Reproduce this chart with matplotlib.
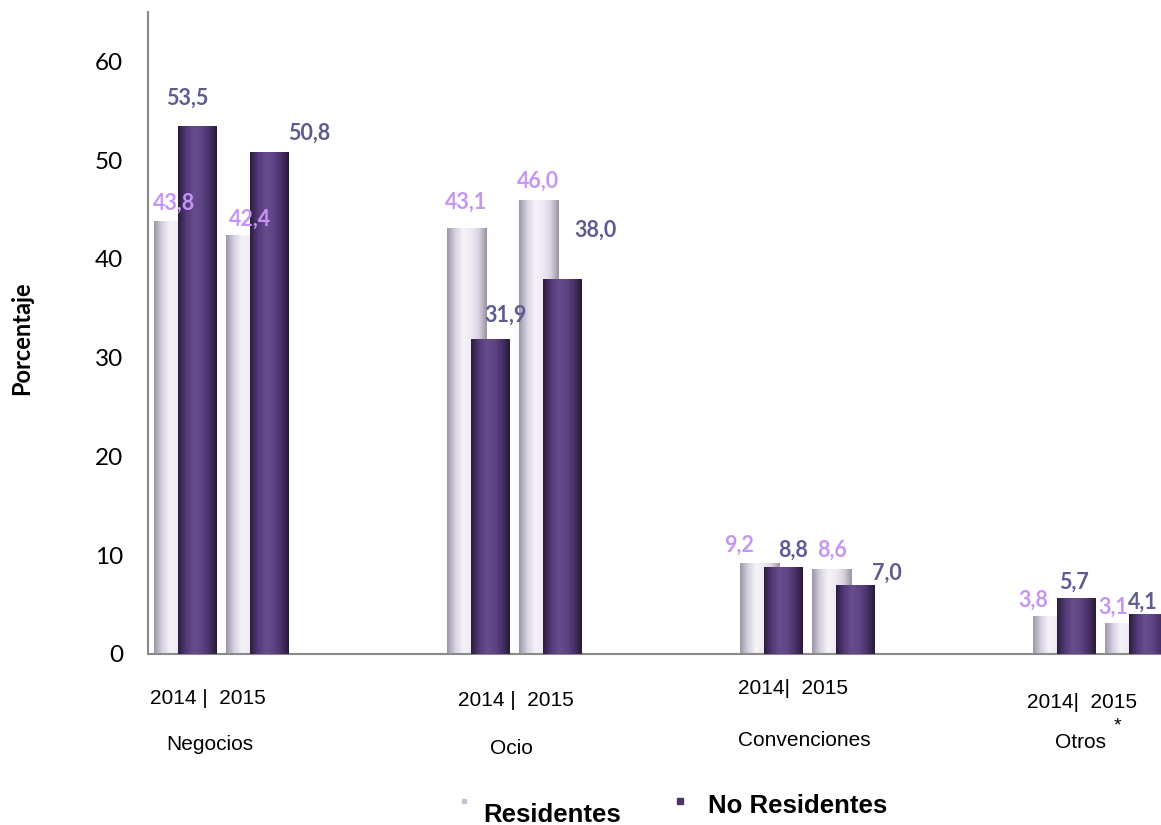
import numpy as np
import matplotlib.pyplot as plt
from matplotlib.colors import LinearSegmentedColormap
from matplotlib.lines import Line2D

# datos
categorias = ["Negocios", "Ocio", "Convenciones", "Otros"]
etiquetas_anios = ["2014 |  2015", "2014 |  2015", "2014|  2015", "2014|  2015"]
res_2014 = [43.8, 43.1, 9.2, 3.8]
nores_2014 = [53.5, 31.9, 8.8, 5.7]
res_2015 = [42.4, 46.0, 8.6, 3.1]
nores_2015 = [50.8, 38.0, 7.0, 4.1]
yticks = [0, 10, 20, 30, 40, 50, 60]

# posiciones de las etiquetas (pixeles, dx, dy respecto a la barra)
desp_res_2014 = [(0, 18), (-1, 26), (-21, 18), (-20, 16)]
desp_nores_2014 = [(-10, 27), (15, 24), (10, 17), (-2, 15)]
desp_res_2015 = [(4, 16), (-1, 18), (0, 19), (-12, 16)]
desp_nores_2015 = [(40, 19), (33, 48), (32, 12), (-6, 11)]
desp_anios = [(-14, 45), (1, 46), (-15, 35), (-19, 48)]
desp_nombres = [(-12, 90), (-3, 95), (-3, 86), (-20, 88)]

col_res_txt = "#c596f6"
col_nores_txt = "#5e5b90"

cmap_blanco = LinearSegmentedColormap.from_list(
    "blanco", ["#9c97a6", "#d6d1df", "#f5f2f9", "#eeeaf3", "#d8d2e1", "#99939f"])
cmap_morado = LinearSegmentedColormap.from_list(
    "morado", ["#2b1d3d", "#523877", "#684c8d", "#604585", "#4a326a", "#281a38"])

fig = plt.figure(figsize=(11.61, 8.25), dpi=100)
ax = fig.add_axes([148 / 1161, 1 - 654 / 825, 1 - 148 / 1161, 642 / 825])

x = np.arange(len(categorias))
par = 0.123
d = 0.040
w_b = 0.1365
w_m = 0.133

grad = np.linspace(0, 1, 128).reshape(1, -1)


def dibujar(xs, vals, ancho, cmap, z):
    barras = ax.bar(xs, vals, ancho, color="#cccccc", zorder=z, linewidth=0)
    for b in barras:
        x0 = b.get_x()
        im = ax.imshow(grad, cmap=cmap, aspect="auto", interpolation="bicubic",
                       extent=[x0, x0 + b.get_width(), 0, b.get_height()],
                       zorder=z + 0.1)
        im.set_clip_path(b)
    return barras


b1 = dibujar(x - par - d, res_2014, w_b, cmap_blanco, 2)
b2 = dibujar(x - par + d, nores_2014, w_m, cmap_morado, 3)
b3 = dibujar(x + par - d, res_2015, w_b, cmap_blanco, 2)
b4 = dibujar(x + par + d, nores_2015, w_m, cmap_morado, 3)


def etiquetas(barras, desp, color):
    for b, (dx, dy) in zip(barras, desp):
        ax.annotate(f"{b.get_height():.1f}".replace(".", ","),
                    (b.get_x() + b.get_width() / 2, b.get_height()),
                    xytext=(dx, dy), textcoords="offset pixels",
                    ha="center", va="center", color=color,
                    fontsize=15.5, fontweight="bold", family="Lato", zorder=5)


etiquetas(b1, desp_res_2014, col_res_txt)
etiquetas(b2, desp_nores_2014, col_nores_txt)
etiquetas(b3, desp_res_2015, col_res_txt)
etiquetas(b4, desp_nores_2015, col_nores_txt)

for i in range(len(categorias)):
    dx, dy = desp_anios[i]
    ax.annotate(etiquetas_anios[i], (x[i], 0), xytext=(dx, -dy),
                textcoords="offset pixels", ha="center", va="center",
                fontsize=15, family="Liberation Sans", annotation_clip=False)
    dx, dy = desp_nombres[i]
    ax.annotate(categorias[i], (x[i], 0), xytext=(dx, -dy),
                textcoords="offset pixels", ha="center", va="center",
                fontsize=15, family="Liberation Sans", annotation_clip=False)
ax.annotate("*", (x[3], 0), xytext=(17, -72), textcoords="offset pixels",
            ha="center", va="center", fontsize=14, family="Liberation Sans",
            annotation_clip=False)

ax.set_xlim(-0.251, 3.206)
ax.set_ylim(0, 65)
ax.set_xticks([])
ax.set_yticks(yticks)
ax.set_yticklabels([str(t) for t in yticks], fontsize=17.5, family="Lato")
ax.tick_params(axis="y", length=0, pad=18)
for s in ["top", "right"]:
    ax.spines[s].set_visible(False)
for s in ["left", "bottom"]:
    ax.spines[s].set_color("#8a8a8a")
    ax.spines[s].set_linewidth(1.5)

fig.text(22 / 1161, 1 - 338 / 825, "Porcentaje", rotation=90, ha="center",
         va="center", fontsize=17, fontweight="bold", family="Lato")

# leyenda
fig.add_artist(Line2D([464 / 1161], [1 - 801 / 825], marker="s", markersize=3.5,
                      color="#c8c2d2", transform=fig.transFigure))
fig.add_artist(Line2D([680 / 1161], [1 - 801 / 825], marker="s", markersize=4.5,
                      color="#4b3466", transform=fig.transFigure))
fig.text(483 / 1161, 1 - 815 / 825, "Residentes", ha="left", va="center",
         fontsize=18.5, fontweight="bold", family="Liberation Sans")
fig.text(708 / 1161, 1 - 806 / 825, "No Residentes", ha="left", va="center",
         fontsize=18.5, fontweight="bold", family="Liberation Sans")

fig.savefig("out.png", dpi=100)
